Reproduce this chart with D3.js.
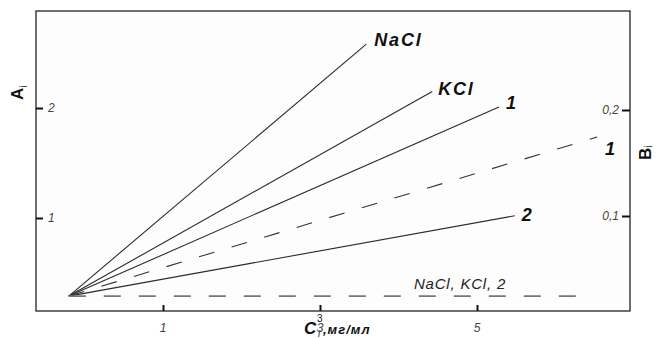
<!DOCTYPE html>
<html>
<head>
<meta charset="utf-8">
<script src="https://cdn.jsdelivr.net/npm/d3@7"></script>
<style>
  body { margin: 0; background: #fff; }
  svg { display: block; font-family: "Liberation Sans", Arial, sans-serif; }
</style>
</head>
<body>
<svg id="chart" width="656" height="338"></svg>
<script>
// ticks
const cTicks = [1, 3, 5];
const aTicks = [1, 2];
const bTicks = [0.1, 0.2];
const bTickLabels = ["0,1", "0,2"];

// common start point of all lines
const startC = -0.2;
const startA = 0.29;
const startB = 0.0245;

// solid lines, A_i (left axis)
const solidNames = ["NaCl", "KCl", "1", "2"];
const solidEndC = [3.59, 4.43, 5.28, 5.48];
const solidEndA = [2.58, 2.15, 2.01, 1.02];

// dashed lines, B_i (right axis)
const dashNames = ["1", "NaCl, KCl, 2"];
const dashEndC = [6.53, 6.41];
const dashEndB = [0.1745, 0.0245];

var box = { left: 36, top: 11, right: 630, bottom: 311 };

var svg = d3.select("#chart");

var x = d3.scaleLinear().domain([1, 5]).range([163, 477]);
var yA = d3.scaleLinear().domain([1, 2]).range([218, 108]);
var yB = d3.scaleLinear().domain([0.1, 0.2]).range([216, 110]);

// frame
svg.append("rect")
  .attr("x", box.left).attr("y", box.top)
  .attr("width", box.right - box.left).attr("height", box.bottom - box.top)
  .attr("fill", "#fdfdfd").attr("stroke", "#222").attr("stroke-width", 1.3);

// axes with inward ticks
var axB = svg.append("g")
  .attr("transform", "translate(0," + box.bottom + ")")
  .call(d3.axisTop(x).tickValues(cTicks).tickSize(6).tickFormat(""));
axB.select(".domain").remove();
axB.selectAll("line").attr("stroke", "#111").attr("stroke-width", 2);
svg.selectAll(".ctick").data(cTicks).enter().append("text")
  .attr("class", "ctick")
  .attr("x", d => x(d)).attr("y", 332)
  .attr("text-anchor", "middle")
  .attr("font-size", 12).attr("font-style", "italic").attr("fill", "#444")
  .text(d => d);

var axL = svg.append("g")
  .attr("transform", "translate(" + box.left + ",0)")
  .call(d3.axisRight(yA).tickValues(aTicks).tickSize(7).tickFormat(""));
axL.select(".domain").remove();
axL.selectAll("line").attr("stroke", "#111").attr("stroke-width", 2);
svg.selectAll(".atick").data(aTicks).enter().append("text")
  .attr("class", "atick")
  .attr("x", 48).attr("y", d => yA(d) + 4)
  .attr("font-size", 12).attr("font-style", "italic").attr("fill", "#444")
  .text(d => d);

var axR = svg.append("g")
  .attr("transform", "translate(" + box.right + ",0)")
  .call(d3.axisLeft(yB).tickValues(bTicks).tickSize(8).tickFormat(""));
axR.select(".domain").remove();
axR.selectAll("line").attr("stroke", "#111").attr("stroke-width", 2);
svg.selectAll(".btick").data(bTicks).enter().append("text")
  .attr("class", "btick")
  .attr("x", 619).attr("y", d => yB(d) + 4)
  .attr("text-anchor", "end")
  .attr("font-size", 12).attr("font-style", "italic").attr("fill", "#444")
  .text((d, i) => bTickLabels[i]);

// solid lines
svg.selectAll(".solid").data(solidNames).enter().append("line")
  .attr("class", "solid")
  .attr("x1", x(startC)).attr("y1", yA(startA))
  .attr("x2", (d, i) => x(solidEndC[i])).attr("y2", (d, i) => yA(solidEndA[i]))
  .attr("stroke", "#2a2a2a").attr("stroke-width", 1.1);

// dashed lines
svg.selectAll(".dash").data(dashNames).enter().append("line")
  .attr("class", "dash")
  .attr("x1", x(startC)).attr("y1", yB(startB))
  .attr("x2", (d, i) => x(dashEndC[i])).attr("y2", (d, i) => yB(dashEndB[i]))
  .attr("stroke", (d, i) => i == 0 ? "#333" : "#777")
  .attr("stroke-width", (d, i) => i == 0 ? 1.1 : 1.8)
  .attr("stroke-dasharray", (d, i) => i == 0 ? "16,18" : "17,18");

// line labels
var solidOff = [[8, 2], [6, 3], [7, 2], [7, 5]];
svg.selectAll(".slab").data(solidNames).enter().append("text")
  .attr("class", "slab")
  .attr("x", (d, i) => x(solidEndC[i]) + solidOff[i][0])
  .attr("y", (d, i) => yA(solidEndA[i]) + solidOff[i][1])
  .attr("font-size", 18).attr("font-weight", "bold").attr("font-style", "italic")
  .attr("letter-spacing", 1.8).attr("fill", "#111")
  .text(d => d);

svg.append("text")
  .attr("x", x(dashEndC[0]) + 8).attr("y", yB(dashEndB[0]) + 18)
  .attr("font-size", 18).attr("font-weight", "bold").attr("font-style", "italic")
  .attr("fill", "#111").text(dashNames[0]);

svg.append("text")
  .attr("x", 460).attr("y", yB(dashEndB[1]) - 7)
  .attr("text-anchor", "middle")
  .attr("font-size", 15).attr("font-style", "italic").attr("letter-spacing", 0.8)
  .attr("fill", "#222").text(dashNames[1]);

// axis titles
var tA = svg.append("text")
  .attr("transform", "translate(23,100) rotate(-90)")
  .attr("font-size", 17).attr("font-weight", "bold").attr("fill", "#111");
tA.append("tspan").text("A");
tA.append("tspan").attr("font-size", 10).attr("font-weight", "normal").attr("dy", 4).text("i");

var tB = svg.append("text")
  .attr("transform", "translate(651,160) rotate(-90)")
  .attr("font-size", 17).attr("font-weight", "bold").attr("fill", "#111");
tB.append("tspan").text("B");
tB.append("tspan").attr("font-size", 10).attr("font-weight", "normal").attr("dy", 1).text("i");

var tC = svg.append("text")
  .attr("x", 304).attr("y", 334)
  .attr("font-size", 17).attr("font-weight", "bold").attr("font-style", "italic").attr("fill", "#111");
tC.append("tspan").text("C");
tC.append("tspan").attr("font-size", 10).attr("font-weight", "normal").attr("font-style", "normal")
  .attr("x", 317).attr("y", 322).text("3");
tC.append("tspan").attr("font-size", 9).attr("font-weight", "normal")
  .attr("x", 318).attr("y", 337).text("i");
tC.append("tspan").attr("font-size", 13).attr("letter-spacing", 1)
  .attr("x", 323).attr("y", 334).text(",мг/мл");
</script>
</body>
</html>
